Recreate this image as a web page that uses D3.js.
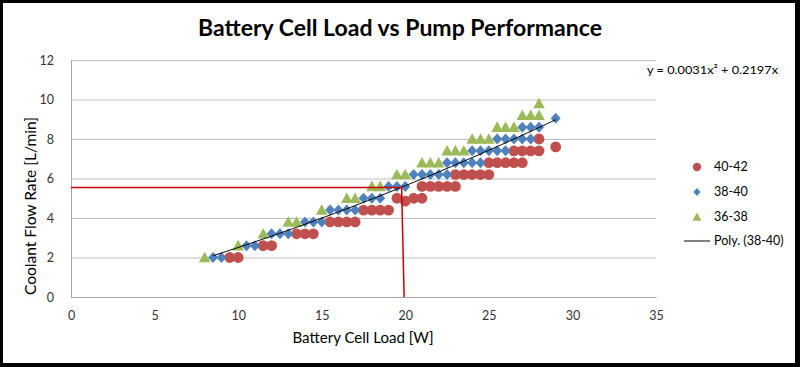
<!DOCTYPE html>
<html><head><meta charset="utf-8">
<script src="https://cdn.jsdelivr.net/npm/d3@7"></script>
<style>body{margin:0;background:#fff}svg{display:block}text{font-family:Lato,"Open Sans",sans-serif}</style>
</head><body><svg id="c" width="800" height="367"></svg>
<script>
const titleText = "Battery Cell Load vs Pump Performance";
const xTitle = "Battery Cell Load [W]";
const yTitle = "Coolant Flow Rate [L/min]";
const xTicks = [0,5,10,15,20,25,30,35];
const yTicks = [0,2,4,6,8,10,12];
const seriesNames = ["40-42","38-40","36-38"];
const trendName = "Poly. (38-40)";
const eqText = "y = 0.0031x\u00B2 + 0.2197x";
const trendCoef = [0.0031, 0.2197];
const trendRange = [8.5, 29];
const series4042 = [
 [9.5,2],[10,2],
 [11.5,2.6],[12,2.6],
 [13.5,3.2],[14,3.2],[14.5,3.2],
 [15.5,3.8],[16,3.8],[16.5,3.8],[17,3.8],
 [17.5,4.4],[18,4.4],[18.5,4.4],[19,4.4],
 [19.5,5.0],[20,4.85],[20.5,5.0],[21,5.0],
 [21,5.6],[21.5,5.6],[22,5.6],[22.5,5.6],[23,5.6],
 [23,6.2],[23.5,6.2],[24,6.2],[24.5,6.2],[25,6.2],
 [25,6.8],[25.5,6.8],[26,6.8],[26.5,6.8],[27,6.8],
 [26.5,7.4],[27,7.4],[27.5,7.4],[28,7.4],
 [28,8.0],[29,7.6]
];
const series3840 = [
 [8.5,2],[9,2],
 [10.5,2.6],[11,2.6],
 [12,3.2],[12.5,3.2],[13,3.2],
 [14,3.8],[14.5,3.8],[15,3.8],
 [15.5,4.4],[16,4.4],[16.5,4.4],[17,4.4],
 [17.5,5.0],[18,5.0],[18.5,5.0],
 [19,5.6],[19.5,5.6],[20,5.6],
 [20.5,6.2],[21,6.2],[21.5,6.2],[22,6.2],[22.5,6.2],
 [22.5,6.8],[23,6.8],[23.5,6.8],[24,6.8],[24.5,6.8],
 [24,7.4],[24.5,7.4],[25,7.4],[25.5,7.4],[26,7.4],
 [25.5,8.0],[26,8.0],[26.5,8.0],[27,8.0],[27.5,8.0],
 [27,8.6],[27.5,8.6],[28,8.6],
 [29,9.05]
];
const series3638 = [
 [8,2],[10,2.6],[11.5,3.2],[13,3.8],[13.5,3.8],[15,4.4],
 [16.5,5.0],[17,5.0],[18,5.6],[18.5,5.6],[19.5,6.2],[20,6.2],
 [21,6.8],[21.5,6.8],[22,6.8],[22.5,7.4],[23,7.4],[23.5,7.4],
 [24,8.0],[24.5,8.0],[25,8.0],[25.5,8.6],[26,8.6],[26.5,8.6],
 [27,9.2],[27.5,9.2],[28,9.2],[28,9.8]
];
const refLine = [[0,5.55],[19.78,5.55],[19.93,0]];

const colors = ["#C0504D","#4F81BD","#9BBB59"];
const svg = d3.select("#c");
svg.append("rect").attr("width",800).attr("height",367).attr("fill","#000");
svg.append("rect").attr("x",3).attr("y",3).attr("width",792).attr("height",360).attr("fill","#fff");

const x = d3.scaleLinear().domain([0,35]).range([71,656]);
const y = d3.scaleLinear().domain([0,12]).range([297,60]);

svg.append("g").attr("transform","translate(71,0)")
  .call(d3.axisLeft(y).tickValues(yTicks).tickSize(-(656-71)).tickFormat(""))
  .call(g=>g.select(".domain").remove())
  .call(g=>g.selectAll("line").attr("stroke","#bfbfbf").attr("stroke-width",1));

const gx = svg.append("g").attr("transform","translate(0,297)")
  .call(d3.axisBottom(x).tickValues(xTicks).tickSize(0).tickSizeOuter(0));
gx.select(".domain").attr("stroke","#a6a6a6");
gx.selectAll("text").attr("y",19).attr("dy","0.35em").attr("font-size",12.5).attr("fill","#333").attr("font-family","Lato");
const gy = svg.append("g").attr("transform","translate(71,0)")
  .call(d3.axisLeft(y).tickValues(yTicks).tickSize(0).tickSizeOuter(0).tickPadding(17));
gy.select(".domain").attr("stroke","#a6a6a6");
gy.selectAll("text").attr("font-size",12.5).attr("fill","#333").attr("font-family","Lato");

const diamond = (s)=>`M0,${-s*1.1}L${s},0L0,${s*1.1}L${-s},0Z`;
const tri = (s)=>`M0,${-s}L${s},${s*0.82}L${-s},${s*0.82}Z`;

function drawMarkers(data, i, g){
  const sel = g.selectAll(null).data(data).enter();
  if(i===0) sel.append("circle").attr("cx",d=>x(d[0])).attr("cy",d=>y(d[1])).attr("r",5.4).attr("fill",colors[0]);
  if(i===1) sel.append("path").attr("transform",d=>`translate(${x(d[0])},${y(d[1])})`).attr("d",diamond(5)).attr("fill",colors[1]);
  if(i===2) sel.append("path").attr("transform",d=>`translate(${x(d[0])},${y(d[1])})`).attr("d",tri(5.8)).attr("fill",colors[2]);
}
const gm = svg.append("g");
[series4042,series3840,series3638].forEach((s,i)=>drawMarkers(s,i,gm));

const tx = d3.range(trendRange[0], trendRange[1]+0.001, 0.25);
svg.append("path").datum(tx)
  .attr("d", d3.line().x(v=>x(v)).y(v=>y(trendCoef[0]*v*v+trendCoef[1]*v)))
  .attr("fill","none").attr("stroke","#000").attr("stroke-width",1);

svg.append("path").datum(refLine)
  .attr("d", d3.line().x(d=>x(d[0])).y(d=>y(d[1])))
  .attr("fill","none").attr("stroke","#c80000").attr("stroke-width",1.5);

svg.append("text").attr("x",400).attr("y",36).attr("text-anchor","middle")
  .attr("font-size",23).attr("font-weight","bold").attr("fill","#000")
  .attr("textLength",404).attr("lengthAdjust","spacingAndGlyphs").text(titleText);
svg.append("text").attr("x",363).attr("y",343).attr("text-anchor","middle")
  .attr("font-size",14.5).attr("fill","#000")
  .attr("textLength",141).attr("lengthAdjust","spacingAndGlyphs").text(xTitle);
svg.append("text").attr("transform","translate(36,206) rotate(-90)").attr("text-anchor","middle")
  .attr("font-size",14.5).attr("fill","#000")
  .attr("textLength",178).attr("lengthAdjust","spacingAndGlyphs").text(yTitle);
svg.append("text").attr("x",647).attr("y",74).attr("font-size",12).attr("fill","#000")
  .attr("textLength",131).attr("lengthAdjust","spacingAndGlyphs").text(eqText);

const lg = svg.append("g");
const ly = [167,192,217,241];
lg.append("circle").attr("cx",697).attr("cy",ly[0]).attr("r",4.2).attr("fill",colors[0]);
lg.append("path").attr("transform",`translate(697,${ly[1]})`).attr("d",diamond(3.6)).attr("fill",colors[1]);
lg.append("path").attr("transform",`translate(697,${ly[2]})`).attr("d",tri(4.5)).attr("fill",colors[2]);
lg.append("line").attr("x1",684).attr("x2",710).attr("y1",ly[3]).attr("y2",ly[3]).attr("stroke","#000").attr("stroke-width",1);
seriesNames.concat([trendName]).forEach((n,i)=>{
  lg.append("text").attr("x",714).attr("y",ly[i]).attr("dy","0.35em").attr("font-size",12.5).attr("fill","#000").text(n);
});
</script></body></html>
